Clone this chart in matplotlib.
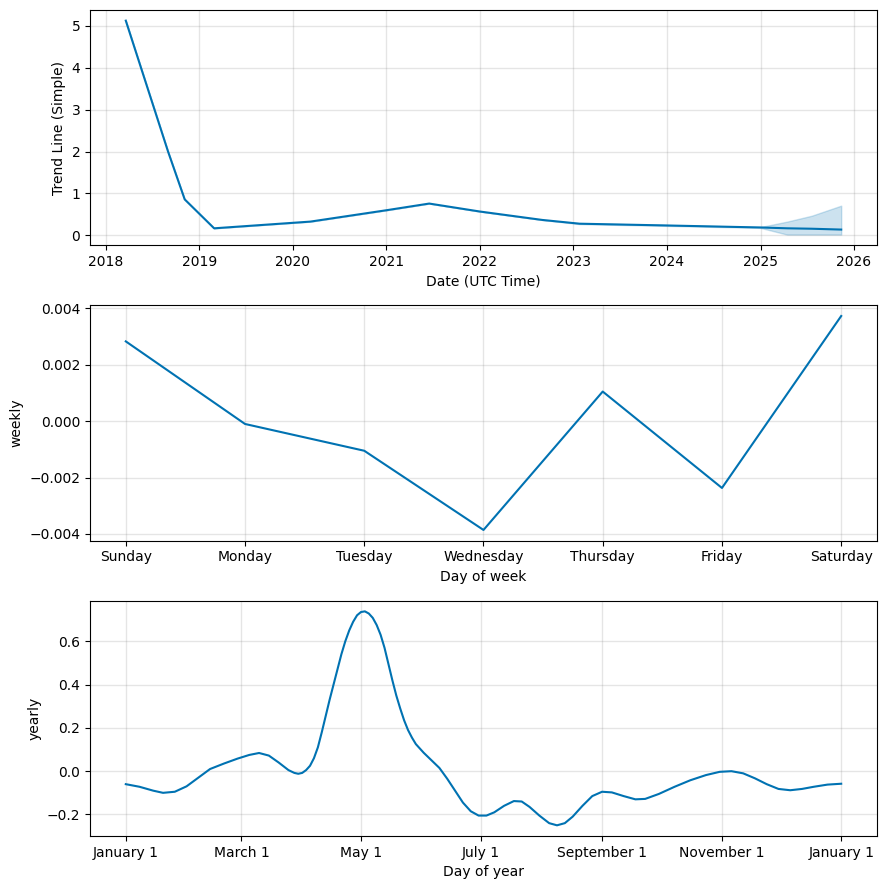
import pandas as pd
import numpy as np
import matplotlib.pyplot as plt

# trend component
trend_dates = ['2018-03-20', '2018-09-01', '2018-11-05', '2019-02-28', '2020-03-10',
               '2020-12-31', '2021-06-17', '2022-01-01', '2022-09-01', '2023-01-25',
               '2023-12-15', '2025-01-01', '2025-04-15', '2025-07-20', '2025-11-12']
trend = [5.12, 2.00, 0.86, 0.17, 0.33, 0.60, 0.76, 0.57, 0.37, 0.28, 0.24, 0.19, 0.17, 0.16, 0.14]
trend_lower = [5.12, 2.00, 0.86, 0.17, 0.33, 0.60, 0.76, 0.57, 0.37, 0.27, 0.23, 0.18, 0.02, 0.02, 0.02]
trend_upper = [5.12, 2.00, 0.86, 0.17, 0.33, 0.60, 0.76, 0.57, 0.37, 0.29, 0.25, 0.20, 0.33, 0.47, 0.71]

# weekly component
days = ['Sunday', 'Monday', 'Tuesday', 'Wednesday', 'Thursday', 'Friday', 'Saturday']
weekly = [0.00283, -0.0001, -0.00105, -0.00386, 0.00105, -0.00237, 0.00373]

# yearly component (day of year, value)
year_days = [0, 7, 14, 19, 25, 31, 37, 43, 50, 57, 63, 68, 73, 78, 83, 86, 88, 90, 92, 94,
             96, 98, 100, 102, 104, 106, 108, 110, 112, 114, 116, 118, 120, 122, 124, 126,
             128, 130, 132, 134, 136, 138, 140, 142, 144, 146, 148, 152, 156, 160, 164, 168,
             172, 176, 180, 184, 188, 193, 198, 202, 206, 211, 216, 220, 224, 228, 233, 238,
             243, 248, 254, 260, 265, 272, 280, 288, 296, 303, 309, 315, 321, 327, 333, 339,
             345, 351, 358, 365]
yearly = [-0.060, -0.072, -0.090, -0.100, -0.095, -0.070, -0.030, 0.010, 0.035, 0.058, 0.075,
          0.084, 0.072, 0.040, 0.005, -0.008, -0.012, -0.008, 0.005, 0.025,
          0.060, 0.110, 0.180, 0.255, 0.330, 0.400, 0.470, 0.540, 0.600, 0.650, 0.690, 0.720,
          0.735, 0.738, 0.728, 0.708, 0.675, 0.630, 0.570, 0.495, 0.420, 0.350, 0.290, 0.235,
          0.190, 0.155, 0.125, 0.085, 0.050, 0.015, -0.035, -0.090,
          -0.145, -0.185, -0.205, -0.205, -0.190, -0.160, -0.138, -0.140, -0.165,
          -0.205, -0.240, -0.250, -0.240, -0.210, -0.160, -0.115, -0.095, -0.098, -0.115,
          -0.130, -0.128, -0.105, -0.072, -0.042, -0.018, -0.003, 0.000, -0.010, -0.033,
          -0.060, -0.082, -0.088, -0.082, -0.072, -0.062, -0.058]
month_ticks = [0, 59, 120, 181, 243, 304, 365]
month_labels = ['January 1', 'March 1', 'May 1', 'July 1', 'September 1', 'November 1', 'January 1']

color = '#0072B2'

fig, axes = plt.subplots(3, 1, figsize=(8.86, 8.89), dpi=100)
fig.subplots_adjust(left=0.1016, right=0.9898, top=0.9888, bottom=0.0596, hspace=0.255)

ax = axes[0]
td = pd.to_datetime(trend_dates)
ax.plot(td, trend, ls='-', c=color)
ax.fill_between(td, trend_lower, trend_upper, color=color, alpha=0.2)
ax.grid(True, which='major', c='gray', ls='-', lw=1, alpha=0.2)
ax.set_xlabel('Date (UTC Time)')
ax.set_ylabel('Trend Line (Simple)')

ax = axes[1]
x = np.arange(len(days))
ax.plot(x, weekly, ls='-', c=color)
ax.set_xticks(x)
ax.set_xticklabels(days)
ax.grid(True, which='major', c='gray', ls='-', lw=1, alpha=0.2)
ax.set_xlabel('Day of week')
ax.set_ylabel('weekly')

ax = axes[2]
ax.plot(year_days, yearly, ls='-', c=color)
ax.set_xticks(month_ticks)
ax.set_xticklabels(month_labels)
ax.grid(True, which='major', c='gray', ls='-', lw=1, alpha=0.2)
ax.set_xlabel('Day of year')
ax.set_ylabel('yearly')

plt.savefig('out.png')
